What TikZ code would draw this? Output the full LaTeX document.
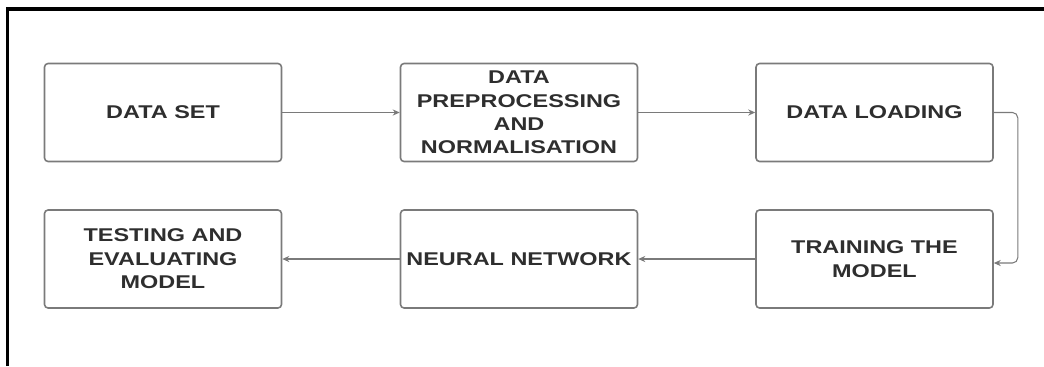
\documentclass[tikz,border=0pt]{standalone}
\usepackage{fontspec}
\newfontfamily\boxfont[FakeStretch=1.27]{Liberation Sans}
\usetikzlibrary{arrows.meta}
\definecolor{boxgray}{HTML}{7A7A7A}
\definecolor{txtgray}{HTML}{2E2E2E}
\tikzset{
  stage/.style={draw=boxgray, line width=0.9pt, rounded corners=2pt,
    minimum width=4.74cm, minimum height=1.96cm, align=center, text=txtgray,
    font=\boxfont\fontsize{10.5}{13.3}\selectfont\bfseries},
  flow/.style={draw=boxgray, line width=0.6pt, -{Stealth[length=4pt,width=3.5pt]}}
}
\begin{document}
\begin{tikzpicture}[x=0.02cm,y=-0.02cm]
\useasboundingbox (0,0) rectangle (1044,366);

%Frame
\draw [line width=2pt] (7.5,366) -- (7.5,9) -- (1044,9);

%Top row
\node [stage] (dataset) at (163,112.5) {DATA SET};
\node [stage] (preproc) at (519,112.5) {DATA\\PREPROCESSING\\AND\\NORMALISATION};
\node [stage] (loading) at (874.5,112.5) {DATA LOADING};

%Bottom row
\node [stage] (testing) at (163,259) {TESTING AND\\EVALUATING\\MODEL};
\node [stage] (neural) at (519,259) {NEURAL NETWORK};
\node [stage] (training) at (874.5,259) {TRAINING THE\\MODEL};

%Flow lines
\draw [flow] (dataset) -- (preproc);
\draw [flow] (preproc) -- (loading);
\draw [flow, rounded corners=3pt] (loading.east) -- ++(24,0) |- ([yshift=-0.08cm]training.east);
\draw [flow] (training) -- (neural);
\draw [flow] (neural) -- (testing);
\end{tikzpicture}
\end{document}
